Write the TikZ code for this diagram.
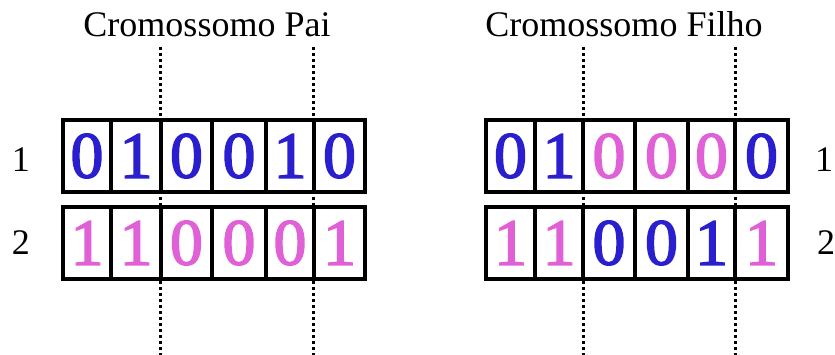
\documentclass[tikz,border=0pt]{standalone}
\usepackage{fontspec}
\setmainfont{Liberation Serif}
\newfontfamily\digitfont[FakeBold=2.2]{Liberation Serif}
\definecolor{gblue}{HTML}{2A1FCF}
\definecolor{gpink}{HTML}{E060D8}
\begin{document}
\begin{tikzpicture}[x=1pt,y=-1pt,
  cellbox/.style={draw=black, line width=3.2pt, fill=white, inner sep=0pt,
    minimum height=72pt, font=\digitfont\fontsize{66}{66}\selectfont},
  ttl/.style={font=\fontsize{36}{40}\selectfont, inner sep=0pt, anchor=base},
  cut/.style={line width=3pt, dash pattern=on 2.6pt off 3.4pt}]
\useasboundingbox (0,0) rectangle (835,355);
% titles
\node[ttl] (tp) at (207,37) {Cromossomo Pai};
\node[ttl] (tf) at (624,37) {Cromossomo Filho};
% row labels
\node[ttl] (lp1) at (21,172) {1};
\node[ttl] (lp2) at (21,255) {2};
\node[ttl] (lf1) at (824,172) {1};
\node[ttl] (lf2) at (826,255) {2};
% cut lines
\foreach \x [count=\k] in {160,313,583,735}{
  \coordinate (ct\k) at (\x,47);
  \coordinate (cb\k) at (\x,355);
  \draw[cut] (ct\k) -- (cb\k);
}
% cells: name / left / right / y-centre / digit / colour
\foreach \nm/\a/\b/\y/\d/\c in {
  pa1/63/111/156/0/gblue, pa2/111/161/156/1/gblue, pa3/161/212/156/0/gblue,
  pa4/212/266/156/0/gblue, pa5/266/314/156/1/gblue, pa6/314/365/156/0/gblue,
  pb1/63/111/243/1/gpink, pb2/111/161/243/1/gpink, pb3/161/212/243/0/gpink,
  pb4/212/266/243/0/gpink, pb5/266/314/243/0/gpink, pb6/314/365/243/1/gpink,
  fa1/486/535/156/0/gblue, fa2/535/583/156/1/gblue, fa3/583/635/156/0/gpink,
  fa4/635/688/156/0/gpink, fa5/688/735/156/0/gpink, fa6/735/788/156/0/gblue,
  fb1/486/535/243/1/gpink, fb2/535/583/243/1/gpink, fb3/583/635/243/0/gblue,
  fb4/635/688/243/0/gblue, fb5/688/735/243/1/gblue, fb6/735/788/243/1/gpink}{
  \pgfmathsetmacro\w{\b-\a}
  \pgfmathsetmacro\xc{(\a+\b)/2}
  \node[cellbox, text=\c, minimum width=\w pt] (\nm) at (\xc,\y) {\d};
}
\end{tikzpicture}
\end{document}
